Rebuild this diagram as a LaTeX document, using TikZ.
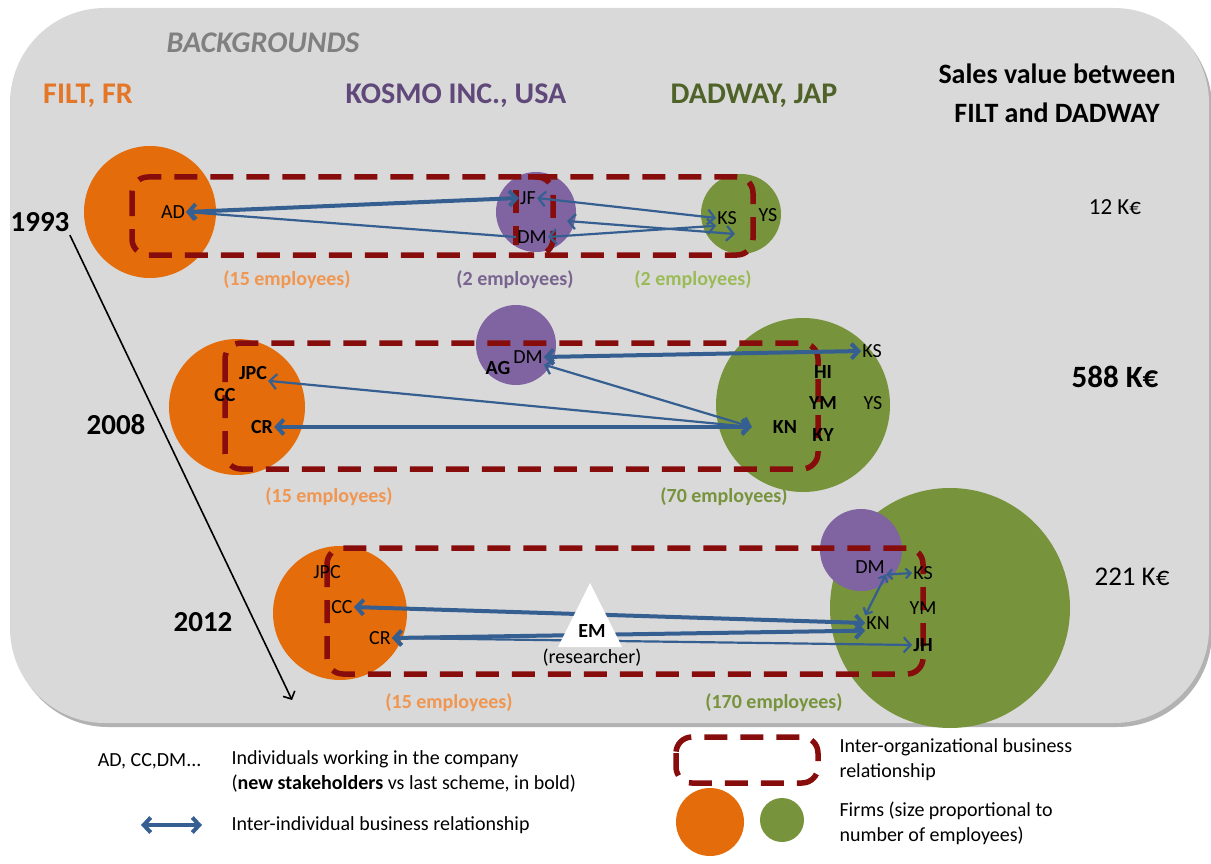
\documentclass[tikz,border=0pt]{standalone}
\usepackage{fontspec}
\setmainfont{Carlito}
\usetikzlibrary{arrows.meta}

\definecolor{bggray}{RGB}{217,217,217}
\definecolor{filtorange}{RGB}{228,108,10}
\definecolor{filttext}{RGB}{228,118,40}
\definecolor{filtlight}{RGB}{240,150,80}
\definecolor{kosmopurple}{RGB}{128,100,162}
\definecolor{kosmotext}{RGB}{96,73,122}
\definecolor{dadwaygreen}{RGB}{119,147,60}
\definecolor{dadwaytext}{RGB}{79,98,40}
\definecolor{dadwaylight}{RGB}{155,187,89}
\definecolor{reldash}{RGB}{135,12,12}
\definecolor{tieblue}{RGB}{54,95,145}

\tikzset{
  firm/.style={circle, inner sep=0pt, minimum size=#1},
  person/.style={inner sep=1pt, font=\fontsize{20}{22}\selectfont},
  newperson/.style={inner sep=1pt, font=\fontsize{20}{22}\selectfont\bfseries},
  relbox/.style={draw=reldash, line width=5.5pt, dash pattern=on 23pt off 13pt, rounded corners=16pt},
  tie/.style={draw=tieblue, line width=4pt, <->},
  thintie/.style={tie, line width=2.2pt},
  header/.style={font=\fontsize{30}{34}\selectfont\bfseries},
  staff/.style={font=\fontsize{20}{22}\selectfont\bfseries},
  year/.style={font=\fontsize{29}{32}\selectfont\bfseries},
  sales/.style={font=\fontsize{23}{26}\selectfont},
  legendtext/.style={font=\fontsize{20}{25}\selectfont, anchor=west, align=left},
}

\begin{document}
\begin{tikzpicture}[x=1pt, y=-1pt, >={Straight Barb[length=7pt,width=15pt]}]
  \useasboundingbox (0,0) rectangle (1211,864);
  % panel
  \fill[black!30, rounded corners=95pt] (13,12) rectangle (1212,727);
  \fill[bggray, rounded corners=95pt] (10,8) rectangle (1209,723);

  % column heads
  \node[header, text=black!50, font=\fontsize{30}{34}\selectfont\bfseries\itshape] (bg) at (263,43) {BACKGROUNDS};
  \node[header, text=filttext] (filt) at (88,96) {FILT, FR};
  \node[header, text=kosmotext] (kosmo) at (456,96) {KOSMO INC., USA};
  \node[header, text=dadwaytext] (dadway) at (754,96) {DADWAY, JAP};
  \node[header, align=center, font=\fontsize{28}{39}\selectfont\bfseries] (sales) at (1057,93) {Sales value between\\FILT and DADWAY};

  % time line
  \node[year] (y1993) at (40,222) {1993};
  \node[year] (y2008) at (116,425) {2008};
  \node[year] (y2012) at (203,622) {2012};
  \coordinate (timeend) at (292,700);
  \draw[line width=1.6pt, -{Straight Barb[length=6pt,width=13pt]}] ([xshift=-3pt]y1993.south east) -- (timeend);

  % 1993
  \node[firm=132pt, fill=filtorange] (filt1) at (150,212) {};
  \node[firm=80pt, fill=kosmopurple] (kosmo1) at (536,212) {};
  \node[firm=80pt, fill=dadwaygreen] (dadway1) at (741,214) {};
  \draw[relbox] (132,177) rectangle (753,255);
  \draw[relbox] (528,177) -- (553,177) -- (553,255) -- (528,255);
  \draw[relbox, rounded corners=0pt] (516,190) -- (516,245);
  \node[person] (ad1) at (173,212) {AD};
  \node[person] (jf1) at (528,198) {JF};
  \node[person] (dm1) at (532,237) {DM};
  \node[person] (ks1) at (727,218) {KS};
  \node[person] (ys1) at (768,215) {YS};
  \coordinate (kosmo1in) at (567,221);
  \coordinate (dadway1in) at (735,234);
  \draw[tie] (ad1.east) -- (jf1.west);
  \draw[thintie, <-] (ad1.east) -- (dm1.west);
  \draw[thintie] (jf1.east) -- (ks1.west);
  \draw[thintie] (dm1.east) -- (ks1.south west);
  \draw[thintie] (kosmo1in) -- (dadway1in);
  \node[staff, text=filtlight] (staff1f) at (287,280) {(15 employees)};
  \node[staff, text=kosmotext!85] (staff1k) at (515,280) {(2 employees)};
  \node[staff, text=dadwaylight] (staff1d) at (693,280) {(2 employees)};
  \node[sales] (sales1) at (1115,207) {12 K€};

  % 2008
  \node[firm=136pt, fill=filtorange] (filt2) at (237,407) {};
  \node[firm=80pt, fill=kosmopurple] (kosmo2) at (516,345) {};
  \node[firm=174pt, fill=dadwaygreen] (dadway2) at (803,405) {};
  \draw[relbox] (225,343) rectangle (818,469);
  \node[newperson] (jpc2) at (253,373) {JPC};
  \node[newperson] (cc2) at (225,395) {CC};
  \node[newperson] (cr2) at (262,427) {CR};
  \node[newperson] (ag2) at (498,368) {AG};
  \node[person] (dm2) at (528,357) {DM};
  \node[person] (ks2) at (872,351) {KS};
  \node[newperson] (hi2) at (823,372) {HI};
  \node[newperson] (ym2) at (823,403) {YM};
  \node[newperson] (ky2) at (823,435) {KY};
  \node[newperson] (kn2) at (785,427) {KN};
  \node[person] (ys2) at (873,403) {YS};
  \draw[tie] (dm2.east) -- (ks2.west);
  \draw[thintie] (dm2.south east) -- ([xshift=-20pt]kn2.west);
  \draw[thintie] (jpc2.south east) -- ([xshift=-20pt]kn2.west);
  \draw[tie] (cr2.east) -- ([xshift=-20pt]kn2.west);
  \node[staff, text=filtlight] (staff2f) at (329,497) {(15 employees)};
  \node[staff, text=dadwaygreen] (staff2d) at (724,497) {(70 employees)};
  \node[sales, font=\fontsize{31}{34}\selectfont\bfseries] (sales2) at (1115,377) {588 K€};

  % 2012
  \node[firm=240pt, fill=dadwaygreen] (dadway3) at (950,608) {};
  \node[firm=82pt, fill=kosmopurple] (kosmo3) at (861,550) {};
  \node[firm=134pt, fill=filtorange] (filt3) at (340,613) {};
  \draw[relbox] (327,548) rectangle (923,674);
  \node[person] (jpc3) at (327,572) {JPC};
  \node[person] (cc3) at (342,607) {CC};
  \node[person] (cr3) at (380,638) {CR};
  \node[person] (dm3) at (870,567) {DM};
  \node[person] (ks3) at (923,573) {KS};
  \node[person] (ym3) at (923,608) {YM};
  \node[person] (kn3) at (878,623) {KN};
  \node[newperson] (jh3) at (923,645) {JH};
  \draw[tie] (cc3.east) -- (kn3.west);
  \draw[tie] (cr3.east) -- (kn3.south west);
  \draw[thintie] (cr3.east) -- (jh3.west);
  \draw[thintie, >={Straight Barb[length=5pt,width=10pt]}] (dm3.south east) -- (ks3.west);
  \draw[thintie, >={Straight Barb[length=5pt,width=10pt]}] (dm3.south east) -- (kn3.north west);
  \fill[white] (558,647) -- (590,583) -- (622,647) -- cycle;
  \node[newperson] (em) at (592,631) {EM};
  \node[person] (researcher) at (592,658) {(researcher)};
  \node[staff, text=filtlight] (staff3f) at (449,703) {(15 employees)};
  \node[staff, text=dadwaygreen] (staff3d) at (774,703) {(170 employees)};
  \node[sales, font=\fontsize{27}{30}\selectfont] (sales3) at (1132,577) {221 K€};

  % legend
  \node[legendtext, anchor=east] (legnames) at (205,761) {AD, CC,DM...};
  \node[legendtext, anchor=north west] (legindiv) at (228,747) {Individuals working in the company\\(\textbf{new stakeholders} vs last scheme, in bold)};
  \coordinate (legtieL) at (141,825);
  \coordinate (legtieR) at (202,825);
  \draw[tie] (legtieL) -- (legtieR);
  \node[legendtext] (legtie) at (228,825) {Inter-individual business relationship};
  \draw[relbox] (676,737) rectangle (818,783);
  \node[firm=68pt, fill=filtorange] (legfilt) at (710,822) {};
  \node[firm=44pt, fill=dadwaygreen] (legdadway) at (782,820) {};
  \node[legendtext, anchor=north west] (legrel) at (836,735) {Inter-organizational business\\relationship};
  \node[legendtext, anchor=north west] (legfirm) at (836,798) {Firms (size proportional to\\number of employees)};
\end{tikzpicture}
\end{document}
